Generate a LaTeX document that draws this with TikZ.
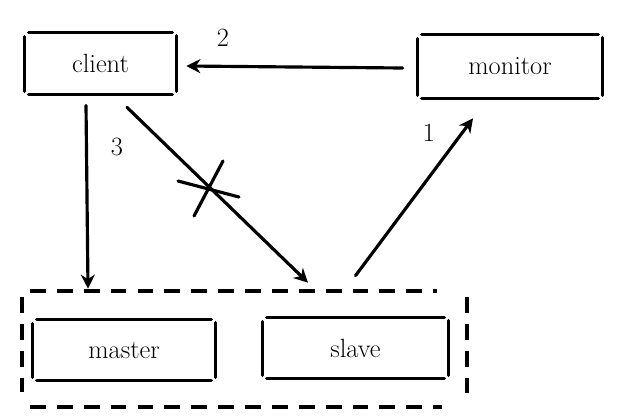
\documentclass[tikz,border=0pt]{standalone}
\usetikzlibrary{arrows.meta}
\tikzset{
  boxline/.style={line width=2pt,line cap=round},
  dashline/.style={line width=2.3pt,dash pattern=on 9pt off 6.3pt},
  arrow/.style={line width=1.8pt,line cap=round,-{Stealth[length=8pt,width=8pt]}},
  crossline/.style={line width=1.8pt,line cap=round},
  box/.style={inner sep=0pt,font=\fontsize{15}{18}\selectfont},
  num/.style={inner sep=0pt,font=\fontsize{15}{18}\selectfont}
}
\newcommand{\sketch}[1]{\draw[boxline] ([xshift=0.08cm]#1.north west) -- ([xshift=-0.08cm]#1.north east);
  \draw[boxline] ([xshift=0.08cm]#1.south west) -- ([xshift=-0.08cm]#1.south east);
  \draw[boxline] ([yshift=-0.08cm]#1.north west) -- ([yshift=0.06cm]#1.south west);
  \draw[boxline] ([yshift=-0.06cm]#1.north east) -- ([yshift=0.06cm]#1.south east);}

\begin{document}
\begin{tikzpicture}[x=0.02cm,y=-0.02cm]
    \useasboundingbox (0,0) rectangle (627,417);
    \fill[white] (0,0) rectangle (627,417);

    \node[box,minimum width=3.02cm,minimum height=1.22cm] at (100.5,63.5) (client) {client};
    \node[box,minimum width=3.68cm,minimum height=1.26cm] at (510,66.5) (monitor) {monitor};
    \node[box,minimum width=3.64cm,minimum height=1.2cm] at (124,350) (master) {master};
    \node[box,minimum width=3.7cm,minimum height=1.2cm] at (355.5,348) (slave) {slave};
    \sketch{client}
    \sketch{monitor}
    \sketch{master}
    \sketch{slave}

    %group
    \draw[dashline] (30,291) -- (437,291);
    \draw[dashline] (30,407) -- (442,407);
    \draw[dashline] (22,297) -- (22,392);
    \draw[dashline] (467,297) -- (467,394);

    \draw[arrow] ([xshift=-0.3cm,yshift=-0.03cm]monitor.west) -- ([xshift=0.2cm,yshift=-0.05cm]client.east);
    \draw[arrow] ([xshift=-0.29cm,yshift=-0.22cm]client.south) -- ([xshift=-0.72cm,yshift=0.62cm]master.north);
    \draw[arrow] ([xshift=0.53cm,yshift=-0.26cm]client.south) -- ([xshift=-0.95cm,yshift=0.7cm]slave.north);
    \draw[arrow] ([yshift=0.84cm]slave.north) -- ([xshift=-0.74cm,yshift=-0.4cm]monitor.south);
    \draw[crossline] (178,181) -- (239,197);
    \draw[crossline] (223,161) -- (194,216);

    \node[num] at (429,133) (one) {1};
    \node[num] at (223,38) (two) {2};
    \node[num] at (117,147) (three) {3};
\end{tikzpicture}
\end{document}
